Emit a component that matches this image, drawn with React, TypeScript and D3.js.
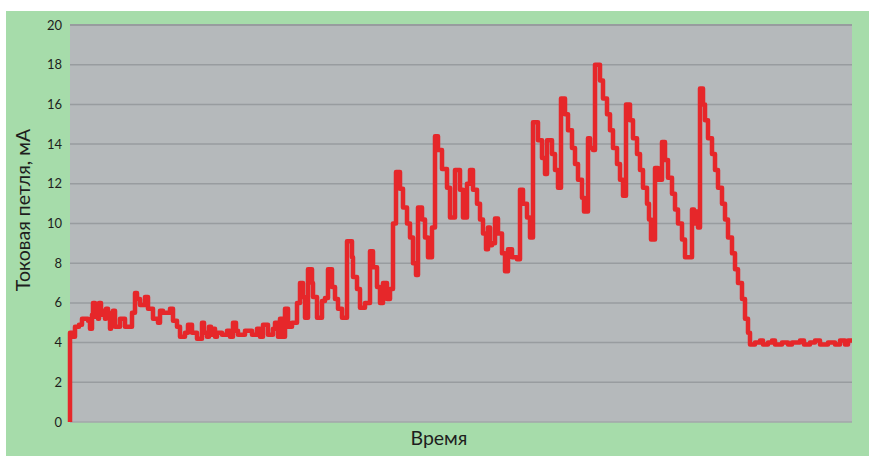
import React from "react";
import * as d3 from "d3";

const yTicks = [0, 2, 4, 6, 8, 10, 12, 14, 16, 18, 20];
const yLabel = "Токовая петля, мА";
const xLabel = "Время";

const times = [
  0, 0, 3, 5, 9, 12, 18, 20, 22, 23, 25, 26, 28, 29, 31, 33, 35, 36, 38, 40, 41, 43, 45, 50, 55, 59, 62, 65, 67, 70, 75, 78, 83, 88, 90, 93, 100, 103, 107, 110, 115, 118, 122, 127, 132, 134, 137, 139, 141, 143, 145, 147, 152, 157, 160, 163, 166, 168, 175, 182, 187, 190, 193, 198, 203,
  205, 208, 210, 213, 215, 218, 222, 227, 230, 233, 235, 238, 242, 243, 247, 252, 255, 258, 262, 265, 268, 272, 277, 282, 283, 287, 290, 295, 300, 303, 307, 310, 313, 317, 320, 323, 326, 330, 333, 337, 340, 343, 346, 348, 352, 355, 358, 362, 365, 368, 372, 377, 380, 385,
  390, 393, 397, 400, 403, 407, 410, 413, 416, 418, 420, 422, 425, 428, 432, 435, 438, 442, 447, 450, 453, 457, 460, 463, 468, 472, 475, 477, 482, 485, 488, 491, 495, 498, 502, 505, 508, 512, 514, 518, 520, 523, 525, 530, 533, 537, 540, 543, 547, 550, 553, 556, 560, 563, 567, 570, 573, 577, 579, 581, 585,
  588, 592, 595, 598, 602, 605, 608, 612, 615, 622, 624, 626, 628, 630, 633, 635, 638, 642, 645, 648, 652, 655, 658, 662, 665, 668, 672, 675, 678, 680, 685, 690, 693, 698, 702, 705, 712, 718, 722, 730, 734, 740, 745, 750, 758, 765, 770, 775, 778, 782,
];

const values = [
  0, 4.5, 4.3, 4.8, 4.9, 5.2, 5.1, 4.7, 5.4, 6.0, 5.3, 5.8, 5.2, 6.0, 5.4, 5.6, 5.2, 5.7, 5.3, 4.7, 5.5, 5.6, 4.8, 5.2, 4.8, 4.8, 5.5, 6.5, 6.2, 5.9, 6.3, 5.7, 5.2, 5.0, 5.6, 5.5, 5.7, 5.1, 4.8, 4.3, 4.5, 4.9, 4.5, 4.2, 5.0, 4.5, 4.3, 4.8, 4.4, 4.7, 4.3, 4.5, 4.4, 4.6, 4.3, 5.0, 4.6, 4.4, 4.6, 4.4, 4.7, 4.3, 4.9, 4.4, 4.7,
  5.0, 4.3, 5.2, 4.3, 5.7, 4.8, 5.0, 6.0, 7.0, 6.3, 5.25, 7.7, 7.0, 6.3, 5.25, 6.1, 6.25, 7.7, 6.8, 6.2, 5.7, 5.25, 9.1, 8.3, 7.3, 6.7, 5.75, 6.0, 8.6, 7.8, 6.8, 6.0, 7.0, 6.2, 6.7, 10.0, 12.6, 11.75, 10.8, 10.0, 9.3, 8.0, 7.4, 10.8, 10.2, 9.3, 8.3, 9.8, 14.4, 13.7, 12.75, 11.8, 10.3, 12.7,
  11.7, 10.3, 12.0, 12.7, 11.7, 11.0, 10.2, 9.5, 8.7, 9.8, 8.9, 9.0, 10.25, 9.5, 8.5, 7.6, 8.7, 8.3, 8.2, 11.7, 11.0, 10.3, 9.3, 15.1, 14.2, 13.3, 12.5, 14.2, 13.5, 12.7, 11.8, 16.3, 15.5, 14.7, 13.8, 13.0, 12.2, 11.3, 10.6, 14.3, 13.8, 13.7, 18.0, 17.2, 16.3, 15.5, 14.7, 13.8, 13.0, 12.2, 11.4, 16.0, 15.2, 14.3, 13.5, 12.7, 11.8, 11.0, 10.2, 9.2, 12.8,
  12.2, 14.1, 13.2, 12.3, 11.5, 10.7, 10.0, 9.2, 8.3, 10.7, 10.0, 10.6, 9.8, 16.8, 16.0, 15.2, 14.3, 13.5, 12.7, 11.8, 11.0, 10.2, 9.3, 8.5, 7.7, 7.0, 6.2, 5.2, 4.5, 3.9, 4.0, 4.1, 3.9, 4.0, 4.1, 3.9, 4.0, 3.9, 4.0, 4.1, 3.9, 4.0, 4.1, 3.9, 4.0, 3.9, 4.1, 3.9, 4.1, 4.1,
];

const W = 869;
const H = 456;
const plot = { left: 70, right: 852, top: 25, bottom: 422 };

export default function App() {
  const x = d3.scaleLinear().domain([0, 782]).range([plot.left, plot.right]);
  const y = d3.scaleLinear().domain([0, 20]).range([plot.bottom, plot.top]);
  const data = times.map((t, i) => [t, values[i]] as [number, number]);
  const line = d3
    .line<[number, number]>()
    .x((d) => x(d[0]))
    .y((d) => y(d[1]))
    .curve(d3.curveStepAfter);
  const font = "Lato, 'Open Sans', sans-serif";
  return (
    <>
      <style>{`body{margin:0;background:#fff}`}</style>
      <svg width={W} height={H} style={{ display: "block" }}>
        <rect x={0} y={0} width={W} height={H} fill="#ffffff" />
        <rect x={6} y={11} width={W - 6} height={H - 11} fill="#a6dcaa" />
        <rect
          x={plot.left}
          y={plot.top}
          width={plot.right - plot.left}
          height={plot.bottom - plot.top}
          fill="#b5b9bb"
        />
        {yTicks.map((t) => (
          <line
            key={"g" + t}
            x1={plot.left}
            x2={plot.right}
            y1={y(t)}
            y2={y(t)}
            stroke={t === 0 ? "#a3a7aa" : "#989c9f"}
            strokeWidth={t === 20 ? 2 : 1.5}
          />
        ))}
        {yTicks.map((t) => (
          <text
            key={"t" + t}
            x={62}
            y={y(t)}
            dy="0.35em"
            textAnchor="end"
            fontFamily={font}
            fontSize={13}
            fill="#1e1e1e"
          >
            {t}
          </text>
        ))}
        <path
          d={line(data) || ""}
          fill="none"
          stroke="#e6272a"
          strokeWidth={4.5}
          strokeLinejoin="round"
        />
        <text
          transform={`translate(30,210) rotate(-90)`}
          textAnchor="middle"
          fontFamily={font}
          fontSize={19.5}
          fill="#1e1e1e"
        >
          {yLabel}
        </text>
        <text
          x={439}
          y={445}
          textAnchor="middle"
          fontFamily={font}
          fontSize={19.5}
          fill="#1e1e1e"
        >
          {xLabel}
        </text>
      </svg>
    </>
  );
}
